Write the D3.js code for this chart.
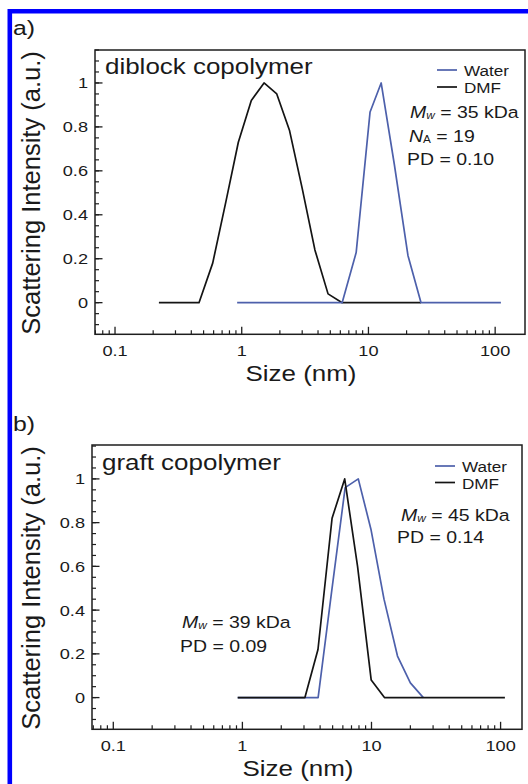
<!DOCTYPE html>
<html>
<head>
<meta charset="utf-8">
<script src="https://cdn.jsdelivr.net/npm/d3@7"></script>
<style>
    html, body { margin: 0; padding: 0; background: #fff; }
    svg { display: block; }
    text { font-family: "Liberation Sans", Arial, Helvetica, sans-serif; fill: #1a1a1a; }
</style>
</head>
<body>
<div id="chart"></div>
<script>
// ---------------------------------------------------------------------------
// Data (size in nm, normalised scattering intensity)
// ---------------------------------------------------------------------------
const diblockDmfSize  = [0.222, 0.46, 0.59, 0.75, 0.94, 1.19, 1.5, 1.89, 2.38, 3.0, 3.78, 4.8, 6.2, 26];
const diblockDmfInt   = [0, 0, 0.18, 0.46, 0.73, 0.92, 1.0, 0.95, 0.785, 0.52, 0.24, 0.04, 0, 0];
const diblockWaterSize = [0.92, 6.2, 8.0, 10.3, 12.6, 16, 20.5, 26, 111];
const diblockWaterInt  = [0, 0, 0.228, 0.868, 1.0, 0.63, 0.215, 0, 0];

const graftWaterSize = [0.92, 3.86, 4.9, 6.25, 7.9, 9.9, 12.5, 15.9, 20, 25.2];
const graftWaterInt  = [0, 0, 0.48, 0.96, 1.0, 0.77, 0.45, 0.19, 0.067, 0];
const graftDmfSize   = [0.92, 3.05, 3.85, 4.95, 6.2, 7.8, 9.95, 12.6, 108];
const graftDmfInt    = [0, 0, 0.22, 0.82, 1.0, 0.6, 0.08, 0, 0];

const xTickValues = [0.1, 1, 10, 100];
const xTickLabels = ['0.1', '1', '10', '100'];
const yTickValues = [0, 0.2, 0.4, 0.6, 0.8, 1];
const yTickLabels = ['0', '0.2', '0.4', '0.6', '0.8', '1'];
const legendLabels = ['Water', 'DMF'];

const COLORS = { water: '#4d60ab', dmf: '#141414', frame: '#0000ff', axis: '#1e1e1e' };
const FONT_SX = 1.18; // the source figure is slightly stretched horizontally

const width = 528, height = 784;

const svg = d3.select('#chart').append('svg')
    .attr('width', width)
    .attr('height', height);

// Blue page frame (top and left edges only are inside the crop)
svg.append('path')
    .attr('d', `M9.8,${height + 5} V11.2 H${width + 5}`)
    .attr('fill', 'none')
    .attr('stroke', COLORS.frame)
    .attr('stroke-width', 4.6);

function zip(xs, ys) {
    return xs.map((x, i) => ({ x: x, y: ys[i] }));
}

// Horizontal text with the figure's stretch
function label(g, x, y, str, size, anchor) {
    return g.append('text')
        .attr('transform', `translate(${x},${y}) scale(${FONT_SX},1)`)
        .attr('text-anchor', anchor || 'start')
        .attr('font-size', size)
        .text(str);
}

// "M_w = 35 kDa" style annotation
function molLabel(g, x, y, sym, sub, rest, subItalic) {
    const t = g.append('text')
        .attr('transform', `translate(${x},${y}) scale(${FONT_SX},1)`)
        .attr('font-size', 16.5);
    t.append('tspan').attr('font-style', 'italic').text(sym);
    t.append('tspan').attr('font-size', 10).attr('dy', 1)
        .attr('font-style', subItalic ? 'italic' : 'normal').text(sub);
    t.append('tspan').attr('dy', -1).text(rest);
}

function drawPanel(cfg) {
    const x = d3.scaleLog().domain(cfg.xDomain).range([cfg.left, cfg.right]);
    const y = d3.scaleLinear().domain(cfg.yDomain).range([cfg.bottom, cfg.top]);
    const g = svg.append('g');

    // Minor + major x ticks (pointing inward)
    const xMinor = [];
    for (let dec = 0.01; dec <= 1000; dec *= 10) {
        for (let k = 2; k <= 9; k++) {
            const v = dec * k;
            if (v >= cfg.xDomain[0] && v <= cfg.xDomain[1]) xMinor.push(v);
        }
    }
    g.selectAll('.xminor')
        .data(xMinor)
        .join('line')
        .attr('x1', d => x(d)).attr('x2', d => x(d))
        .attr('y1', cfg.bottom).attr('y2', cfg.bottom - 4)
        .attr('stroke', COLORS.axis).attr('stroke-width', 1.2);

    g.selectAll('.xmajor')
        .data(xTickValues)
        .join('line')
        .attr('x1', d => x(d)).attr('x2', d => x(d))
        .attr('y1', cfg.bottom).attr('y2', cfg.bottom - 7.5)
        .attr('stroke', COLORS.axis).attr('stroke-width', 1.3);

    xTickValues.forEach((v, i) => label(g, x(v), cfg.bottom + 21.5, xTickLabels[i], 15.4, 'middle'));

    // Minor + major y ticks
    const yMinor = d3.range(-0.1, 1.151, 0.05).map(v => Math.round(v * 100) / 100);
    g.selectAll('.yminor')
        .data(yMinor)
        .join('line')
        .attr('x1', cfg.left).attr('x2', cfg.left + 4)
        .attr('y1', d => y(d)).attr('y2', d => y(d))
        .attr('stroke', COLORS.axis).attr('stroke-width', 1.2);

    g.selectAll('.ymajor')
        .data(yTickValues)
        .join('line')
        .attr('x1', cfg.left).attr('x2', cfg.left + 7.5)
        .attr('y1', d => y(d)).attr('y2', d => y(d))
        .attr('stroke', COLORS.axis).attr('stroke-width', 1.3);

    yTickValues.forEach((v, i) => label(g, cfg.left - 7, y(v) + 5.5, yTickLabels[i], 15.4, 'end'));

    // Frame
    g.append('rect')
        .attr('x', cfg.left).attr('y', cfg.top)
        .attr('width', cfg.right - cfg.left).attr('height', cfg.bottom - cfg.top)
        .attr('fill', 'none')
        .attr('stroke', COLORS.axis)
        .attr('stroke-width', 1.5);

    // Curves
    const line = d3.line().x(d => x(d.x)).y(d => y(d.y));
    cfg.series.forEach(s => {
        g.append('path')
            .datum(zip(s.xs, s.ys))
            .attr('fill', 'none')
            .attr('stroke', s.color)
            .attr('stroke-width', 1.7)
            .attr('stroke-linejoin', 'round')
            .attr('d', line);
    });

    // Axis titles
    label(g, (cfg.left + cfg.right) / 2 - 9, cfg.bottom + 46.5, 'Size (nm)', 22, 'middle');
    g.append('text')
        .attr('transform', `translate(40,${cfg.yLabelCenter}) rotate(-90)`)
        .attr('text-anchor', 'middle')
        .attr('font-size', 25.5)
        .text('Scattering Intensity (a.u.)');

    // Panel letter and title
    label(g, 13, cfg.letterY, cfg.letter, 21);
    label(g, cfg.titleX, cfg.titleY, cfg.title, 22);

    // Legend
    const lg = cfg.legend;
    [COLORS.water, COLORS.dmf].forEach((c, i) => {
        const ly = lg.y + i * lg.step;
        g.append('line')
            .attr('x1', lg.x).attr('x2', lg.x + 20)
            .attr('y1', ly).attr('y2', ly)
            .attr('stroke', c).attr('stroke-width', 1.7);
        label(g, lg.x + 27, ly + 6, legendLabels[i], 14.5);
    });

    return g;
}

// ---------------------------------------------------------------------------
// a) diblock copolymer
// ---------------------------------------------------------------------------
const gA = drawPanel({
    left: 95, right: 525, top: 50, bottom: 334.3,
    xDomain: [0.0695, 172], yDomain: [-0.144, 1.15],
    yLabelCenter: 193,
    letter: 'a)', letterY: 35,
    title: 'diblock copolymer', titleX: 105, titleY: 74,
    legend: { x: 437, y: 70, step: 17 },
    series: [
        { xs: diblockDmfSize, ys: diblockDmfInt, color: COLORS.dmf },
        { xs: diblockWaterSize, ys: diblockWaterInt, color: COLORS.water }
    ]
});
molLabel(gA, 410, 118, 'M', 'w', ' = 35 kDa', true);
molLabel(gA, 409, 142, 'N', 'A', ' = 19', false);
label(gA, 407, 165, 'PD = 0.10', 16.5);

// ---------------------------------------------------------------------------
// b) graft copolymer
// ---------------------------------------------------------------------------
const gB = drawPanel({
    left: 92, right: 522, top: 445, bottom: 729.3,
    xDomain: [0.0684, 146.5], yDomain: [-0.145, 1.155],
    yLabelCenter: 588,
    letter: 'b)', letterY: 431,
    title: 'graft copolymer', titleX: 102, titleY: 470,
    legend: { x: 435, y: 466, step: 16.5 },
    series: [
        { xs: graftWaterSize, ys: graftWaterInt, color: COLORS.water },
        { xs: graftDmfSize, ys: graftDmfInt, color: COLORS.dmf }
    ]
});
molLabel(gB, 401, 521, 'M', 'w', ' = 45 kDa', true);
label(gB, 397, 543, 'PD = 0.14', 16.5);
molLabel(gB, 182, 628, 'M', 'w', ' = 39 kDa', true);
label(gB, 180, 652, 'PD = 0.09', 16.5);
</script>
</body>
</html>
